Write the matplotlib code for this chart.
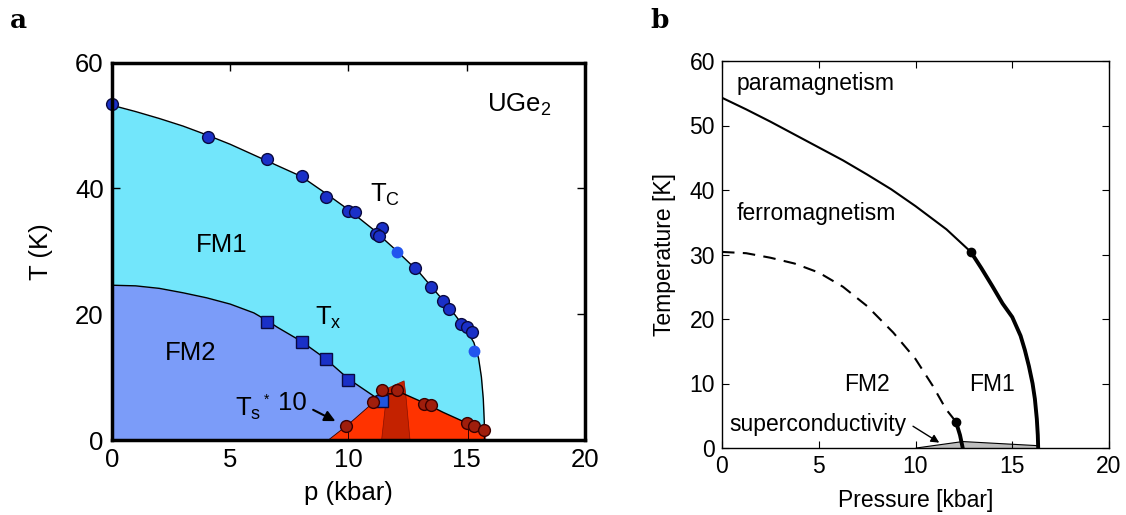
import numpy as np
import matplotlib.pyplot as plt

plt.rcParams['font.family'] = ['Liberation Sans', 'DejaVu Sans']

# ---- panel a data (UGe2) ----
tc_p = [0, 4.04, 6.55, 8.05, 9.04, 10.0, 10.27, 11.4, 11.15, 11.3, 12.8, 13.5, 14.0, 14.24, 14.77, 15.0, 15.24]
tc_T = [53.4, 48.2, 44.6, 42.0, 38.7, 36.4, 36.2, 33.7, 32.7, 32.5, 27.4, 24.3, 22.1, 20.8, 18.5, 18.0, 17.1]
tc2_p = [12.03, 15.29]
tc2_T = [29.9, 14.1]
tx_p = [6.55, 8.05, 9.04, 10.0]
tx_T = [18.8, 15.5, 12.8, 9.5]
tx2_p = [11.42]
tx2_T = [6.2]
ts_p = [9.9, 11.02, 11.4, 12.03, 13.2, 13.5, 15.0, 15.29, 15.74]
ts_T = [2.3, 6.0, 7.9, 7.9, 5.8, 5.6, 2.75, 2.3, 1.6]

tc_line_p = [0, 1, 2, 3, 4, 5, 6, 7, 8, 9, 10, 11, 12, 13, 14, 14.5, 15, 15.3, 15.5, 15.62, 15.7, 15.74, 15.75]
tc_line_T = [53.2, 52.2, 51.1, 49.9, 48.5, 47.0, 45.3, 43.6, 41.9, 39.3, 36.6, 33.6, 30.2, 26.6, 22.2, 19.9, 17.4, 15.5, 13.0, 10.0, 6.5, 3.0, 0]
tx_line_p = [0, 1, 2, 3, 4, 5, 6, 6.55, 7, 8, 9, 10, 11.1, 11.5, 12.3, 13.2, 14.0, 15.0, 15.8]
tx_line_T = [24.6, 24.5, 24.1, 23.4, 22.6, 21.6, 20.2, 19.0, 17.9, 15.7, 13.0, 9.7, 6.9, 7.3, 7.4, 5.9, 4.4, 2.7, 1.3]

sc_p = [9.15, 10.0, 11.0, 11.5, 12.3, 13.2, 14.0, 15.0, 15.8, 15.8]
sc_T = [0, 2.5, 5.8, 7.3, 7.4, 5.9, 4.4, 2.7, 1.3, 0]
wedge_p = [11.4, 11.64, 12.35, 12.42, 12.6]
wedge_T = [0, 8.2, 9.4, 7.3, 0]
drop_p = [10.0, 15.07]
drop_T = [2.3, 2.7]

# ---- panel b data (model) ----
b_tc_p = [0, 1.25, 2.5, 3.75, 5, 6.25, 7.5, 8.75, 10, 11.6, 12.86]
b_tc_T = [54.3, 52.5, 50.6, 48.6, 46.6, 44.6, 42.4, 40.1, 37.5, 33.9, 30.4]
b_tc1_p = [12.86, 13.4, 13.97, 14.5, 15.0, 15.43, 15.65, 15.86, 16.05, 16.17, 16.27, 16.32, 16.34]
b_tc1_T = [30.4, 27.9, 25.1, 22.4, 20.3, 17.4, 15.2, 12.7, 10.0, 7.6, 4.5, 2.0, 0]
b_tx_p = [0, 1.25, 2.5, 3.75, 5, 6.25, 7.5, 8.85, 10, 10.9, 11.58, 12.09]
b_tx_T = [30.4, 30.2, 29.5, 28.6, 27.2, 25.0, 22.0, 17.9, 13.8, 9.6, 6.0, 4.07]
b_tx1_p = [12.09, 12.3, 12.44]
b_tx1_T = [4.07, 2.0, 0]
b_sc_p = [10.04, 12.44, 16.34, 16.34]
b_sc_T = [0, 1.0, 0.36, 0]

fig = plt.figure(figsize=(11.26, 5.15), dpi=100)
axa = fig.add_axes([112 / 1126, 1 - 440 / 515, 473 / 1126, 377.5 / 515])
axb = fig.add_axes([722 / 1126, 1 - 448 / 515, 387 / 1126, 387 / 515])

cyan = '#72E6FB'
fm2 = '#7B9CF9'
red = '#FF3300'
fa = 18.5
fb = 16.5

axa.fill_between(tc_line_p, tc_line_T, 0, color=cyan, lw=0, zorder=1)
axa.fill_between(tx_line_p, tx_line_T, 0, color=fm2, lw=0, zorder=2)
axa.fill(sc_p, sc_T, color=red, lw=0, zorder=3)
axa.fill(wedge_p, wedge_T, color='#C42200', ec='#8A1000', lw=0.5, zorder=3)
axa.plot(tc_line_p, tc_line_T, color='k', lw=1.0, zorder=4)
axa.plot(tx_line_p, tx_line_T, color='k', lw=1.0, zorder=4)
axa.plot(sc_p[:3], sc_T[:3], color='#300000', lw=0.6, zorder=4)
axa.vlines(drop_p, 0, drop_T, color='#300000', lw=0.7, zorder=4)

axa.plot(tc_p, tc_T, 'o', ms=8.5, mfc='#1A30C8', mec='#0A0A40', mew=1.0, zorder=5, clip_on=False)
axa.plot(tc2_p, tc2_T, 'o', ms=8.5, mfc='#2255EE', mec='none', zorder=5)
axa.plot(tx_p, tx_T, 's', ms=8.5, mfc='#1A30C8', mec='#0A0A40', mew=1.0, zorder=5)
axa.plot(tx2_p, tx2_T, 's', ms=8.5, mfc='#1F55E0', mec='#0A0A40', mew=1.0, zorder=5)
axa.plot(ts_p, ts_T, 'o', ms=8.5, mfc='#A01E0C', mec='#3A0000', mew=1.0, zorder=5)

axa.text(15.85, 53.3, 'UGe$_{\\mathregular{2}}$', fontsize=fa, va='center')
axa.text(10.9, 39.0, 'T$_{\\mathregular{C}}$', fontsize=fa, va='center')
axa.text(3.55, 31, 'FM1', fontsize=fa, va='center')
axa.text(2.25, 13.9, 'FM2', fontsize=fa, va='center')
axa.text(8.6, 19.5, 'T$_{\\mathregular{x}}$', fontsize=fa, va='center')
axa.text(5.2, 5.0, 'T$_{\\mathregular{s}}$', fontsize=fa, va='center')
axa.text(6.4, 6.4, '*', fontsize=10, va='center')
axa.text(7.0, 5.9, '10', fontsize=fa, va='center')
axa.annotate('', xy=(9.55, 2.8), xytext=(8.4, 5.0),
             arrowprops=dict(arrowstyle='-|>', color='k', lw=1.5, mutation_scale=16))

axa.set_xlim(0, 20)
axa.set_ylim(0, 60)
axa.set_xticks([0, 5, 10, 15, 20])
axa.set_yticks([0, 20, 40, 60])
axa.tick_params(direction='in', top=True, right=True, length=6, width=1.0, labelsize=fa, pad=6)
for s in axa.spines.values():
    s.set_linewidth(2.5)
    s.set_zorder(6)
axa.set_xlabel('p (kbar)', fontsize=fa, labelpad=6)
axa.set_ylabel('T (K)', fontsize=fa, labelpad=16)

# panel b
axb.fill(b_sc_p, b_sc_T, color='#BDBDBD', lw=0, zorder=1)
axb.plot(b_sc_p[:3], b_sc_T[:3], color='k', lw=0.8, zorder=2)
axb.plot(b_tc_p, b_tc_T, color='k', lw=1.5, zorder=3)
axb.plot(b_tc1_p, b_tc1_T, color='k', lw=2.8, zorder=3)
axb.plot(b_tx_p, b_tx_T, color='k', lw=1.5, ls=(0, (6, 4)), zorder=3)
axb.plot(b_tx1_p, b_tx1_T, color='k', lw=2.8, zorder=3)
axb.plot([b_tc_p[-1], b_tx_p[-1]], [b_tc_T[-1], b_tx_T[-1]], 'o', color='k', ms=6, zorder=4)

axb.text(0.75, 56.5, 'paramagnetism', fontsize=fb, va='center')
axb.text(0.75, 36.4, 'ferromagnetism', fontsize=fb, va='center')
axb.text(7.48, 9.9, 'FM2', fontsize=fb, va='center', ha='center')
axb.text(13.97, 9.9, 'FM1', fontsize=fb, va='center', ha='center')
axb.text(0.4, 3.7, 'superconductivity', fontsize=fb, va='center')
axb.annotate('', xy=(11.35, 0.6), xytext=(9.75, 3.6),
             arrowprops=dict(arrowstyle='-|>', color='k', lw=1.0, mutation_scale=12))

axb.set_xlim(0, 20)
axb.set_ylim(0, 60)
axb.set_xticks([0, 5, 10, 15, 20])
axb.set_yticks([0, 10, 20, 30, 40, 50, 60])
axb.tick_params(direction='in', top=True, right=True, length=5, width=0.8, labelsize=fb, pad=5)
for s in axb.spines.values():
    s.set_linewidth(1.0)
axb.set_xlabel('Pressure [kbar]', fontsize=fb, labelpad=8)
axb.set_ylabel('Temperature [K]', fontsize=fb, labelpad=10)

fig.text(10 / 1126, 1 - 20 / 515, 'a', fontsize=19, fontweight='bold', family='DejaVu Serif', va='center')
fig.text(650 / 1126, 1 - 20 / 515, 'b', fontsize=19, fontweight='bold', family='DejaVu Serif', va='center')

fig.savefig('out.png', dpi=100)
